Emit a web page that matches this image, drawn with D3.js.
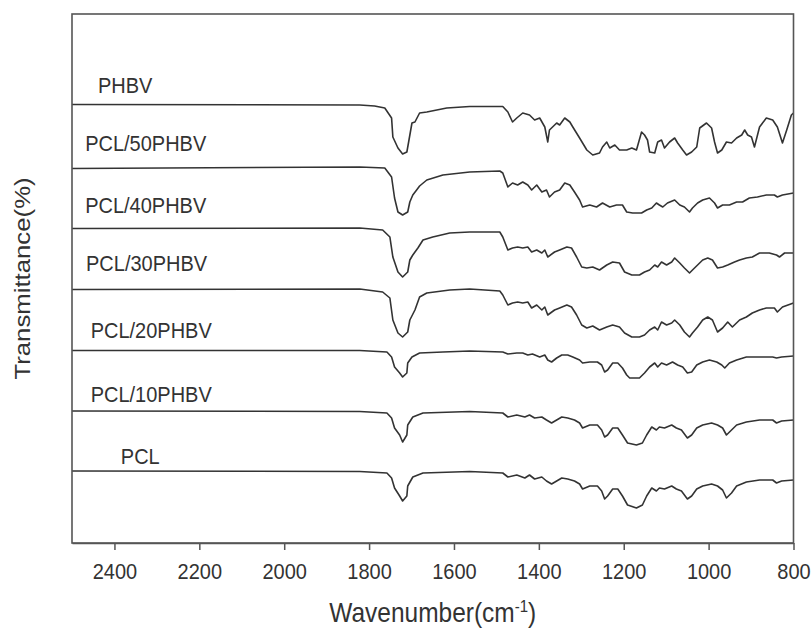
<!DOCTYPE html>
<html>
<head>
<meta charset="utf-8">
<script src="https://cdn.jsdelivr.net/npm/d3@7"></script>
<style>
  body { margin: 0; background: #fff; }
  text { font-family: Arial, "Liberation Sans", sans-serif; fill: #333; }
</style>
</head>
<body>
<div id="chart"></div>
<script>
// FTIR spectra, stacked traces. values are [wavenumber, transmittance (offset units)]
const WIDTH = 812, HEIGHT = 633;
const STRETCH = 1.12; // the source picture's text is a bit taller than wide

const xTicks = [2400, 2200, 2000, 1800, 1600, 1400, 1200, 1000, 800];
const seriesNames = ["PHBV", "PCL/50PHBV", "PCL/40PHBV", "PCL/30PHBV", "PCL/20PHBV", "PCL/10PHBV", "PCL"];
// where the name sits (wavenumber, transmittance)
const labelWn = [2439, 2469, 2469, 2467, 2456, 2456, 2385];
const labelT = [90, 78.5, 66.1, 54.5, 41, 28.3, 15.8];

const phbv = [
  [2500, 87.7], [1822, 87.6], [1787, 87.4], [1763, 87.0], [1747, 85.0], [1744, 81.2], [1732, 79.0],
  [1721, 77.8], [1711, 78.2], [1706, 80.6], [1699, 84.0], [1692, 84.2], [1681, 86.0], [1664, 86.2],
  [1617, 87.0], [1563, 87.3], [1485, 87.3], [1473, 86.2], [1462, 84.2], [1452, 85.0], [1438, 86.0],
  [1422, 85.6], [1410, 84.6], [1398, 85.0], [1386, 83.2], [1379, 80.2], [1375, 82.6], [1358, 84.0],
  [1351, 83.6], [1339, 85.0], [1327, 84.2], [1320, 83.2], [1304, 81.0], [1287, 78.6], [1273, 77.6],
  [1257, 78.0], [1250, 79.2], [1240, 80.2], [1233, 79.0], [1221, 79.6], [1210, 78.6], [1193, 78.6],
  [1181, 79.0], [1170, 78.6], [1158, 82.2], [1151, 81.6], [1144, 80.6], [1139, 78.2], [1127, 78.0],
  [1120, 80.2], [1111, 80.6], [1104, 79.0], [1092, 80.2], [1080, 81.0], [1073, 80.0], [1061, 78.6],
  [1052, 77.6], [1040, 78.2], [1028, 79.2], [1021, 83.0], [1005, 84.0], [993, 83.0], [986, 80.2],
  [979, 78.0], [969, 78.6], [958, 80.2], [946, 80.0], [934, 81.0], [922, 81.6], [915, 82.6],
  [908, 81.6], [899, 81.2], [892, 79.2], [880, 83.2], [864, 85.0], [849, 84.6], [838, 83.2],
  [826, 80.0], [816, 82.6], [805, 85.6], [800, 86.0]
];

const pcl50 = [
  [2500, 74.9], [1822, 75.2], [1763, 75.0], [1747, 73.2], [1740, 69.0], [1732, 66.2], [1721, 65.6],
  [1709, 66.2], [1704, 68.2], [1697, 69.6], [1688, 70.6], [1681, 71.4], [1664, 72.6], [1626, 73.6],
  [1563, 74.2], [1492, 74.4], [1485, 74.0], [1473, 71.2], [1462, 72.0], [1450, 71.6], [1438, 72.2],
  [1426, 71.6], [1417, 70.6], [1405, 71.6], [1393, 70.2], [1382, 70.6], [1375, 69.2], [1363, 70.2],
  [1351, 70.6], [1339, 72.0], [1327, 71.6], [1316, 70.2], [1304, 68.6], [1297, 67.2], [1280, 67.6],
  [1264, 67.2], [1250, 68.0], [1233, 67.2], [1217, 67.6], [1203, 67.6], [1193, 66.2], [1179, 66.0],
  [1158, 66.0], [1146, 66.6], [1134, 67.0], [1123, 68.0], [1116, 67.6], [1108, 67.2], [1097, 68.0],
  [1080, 68.6], [1068, 67.6], [1057, 67.2], [1045, 66.2], [1038, 67.0], [1026, 68.0], [1014, 68.6],
  [998, 69.0], [986, 68.0], [979, 67.0], [967, 67.6], [951, 67.6], [934, 68.2], [920, 68.2],
  [904, 69.0], [885, 69.2], [864, 69.6], [845, 69.6], [838, 69.2], [826, 69.6], [800, 70.0]
];

const pcl40 = [
  [2500, 62.9], [1822, 63.0], [1768, 62.6], [1751, 61.2], [1744, 57.2], [1732, 54.2], [1721, 53.2],
  [1709, 54.2], [1704, 56.6], [1697, 57.6], [1685, 59.0], [1673, 60.6], [1650, 61.2], [1610, 62.0],
  [1563, 62.2], [1492, 62.2], [1485, 61.2], [1473, 58.6], [1462, 59.0], [1450, 59.2], [1438, 59.0],
  [1426, 59.2], [1417, 58.2], [1405, 58.6], [1393, 58.0], [1386, 58.6], [1379, 57.2], [1363, 58.2],
  [1351, 58.6], [1334, 59.2], [1323, 59.0], [1311, 57.2], [1299, 55.2], [1287, 55.0], [1273, 55.2],
  [1257, 54.6], [1240, 55.6], [1226, 56.2], [1210, 56.0], [1198, 54.2], [1181, 53.6], [1163, 53.6],
  [1151, 54.2], [1139, 54.6], [1127, 55.6], [1120, 55.2], [1111, 56.2], [1099, 55.6], [1087, 56.2],
  [1080, 57.0], [1068, 56.0], [1057, 55.0], [1045, 54.0], [1038, 54.6], [1026, 55.6], [1014, 56.6],
  [1002, 57.0], [991, 56.6], [979, 55.0], [967, 55.2], [955, 55.6], [939, 56.2], [927, 56.6],
  [911, 57.0], [897, 57.2], [880, 58.0], [857, 58.0], [840, 57.6], [833, 57.2], [821, 58.0], [800, 58.0]
];

const pcl30 = [
  [2500, 50.7], [1822, 50.8], [1768, 50.2], [1751, 49.0], [1744, 44.6], [1732, 42.0], [1721, 41.2],
  [1709, 42.2], [1704, 44.6], [1692, 46.6], [1681, 49.2], [1664, 50.0], [1610, 50.6], [1563, 50.8],
  [1492, 50.4], [1485, 49.6], [1473, 47.6], [1462, 48.0], [1450, 48.2], [1438, 48.0], [1426, 48.2],
  [1417, 47.0], [1405, 47.6], [1393, 46.6], [1386, 47.2], [1379, 45.6], [1363, 46.6], [1351, 47.0],
  [1334, 47.6], [1323, 47.2], [1311, 45.6], [1299, 43.6], [1287, 43.0], [1273, 43.4], [1257, 42.6],
  [1240, 43.2], [1226, 43.6], [1210, 43.2], [1198, 42.0], [1181, 41.2], [1163, 41.2], [1151, 41.6],
  [1139, 42.6], [1127, 43.2], [1120, 42.6], [1111, 44.2], [1099, 43.6], [1087, 44.0], [1080, 44.6],
  [1068, 43.6], [1057, 42.2], [1045, 41.2], [1038, 42.0], [1026, 43.2], [1014, 44.6], [1002, 45.2],
  [991, 44.6], [979, 42.2], [967, 43.0], [955, 44.2], [944, 43.2], [927, 44.6], [911, 45.2],
  [897, 46.0], [880, 46.6], [864, 47.0], [845, 47.0], [838, 46.2], [826, 47.2], [800, 48.0]
];

const pcl20 = [
  [2500, 38.5], [1822, 38.5], [1758, 38.2], [1747, 37.2], [1740, 35.2], [1728, 34.0], [1721, 33.2],
  [1711, 34.0], [1709, 36.0], [1699, 37.2], [1681, 38.0], [1626, 38.2], [1563, 38.4], [1485, 38.2],
  [1473, 37.8], [1452, 38.0], [1438, 38.0], [1426, 37.6], [1415, 37.8], [1398, 37.2], [1386, 37.6],
  [1379, 36.6], [1370, 36.2], [1358, 37.0], [1346, 37.6], [1332, 37.6], [1320, 37.2], [1304, 36.6],
  [1297, 36.0], [1280, 36.2], [1262, 36.2], [1252, 35.6], [1245, 34.2], [1238, 34.6], [1226, 36.0],
  [1214, 36.0], [1203, 35.0], [1193, 33.6], [1186, 33.0], [1163, 33.0], [1151, 34.0], [1139, 35.2],
  [1127, 36.0], [1120, 35.2], [1111, 36.0], [1099, 35.6], [1085, 36.2], [1073, 35.6], [1061, 35.2],
  [1050, 34.0], [1040, 34.2], [1028, 35.6], [1014, 36.2], [998, 36.6], [981, 36.2], [969, 35.6],
  [962, 35.0], [951, 36.0], [934, 36.6], [911, 37.2], [880, 37.2], [849, 37.2], [840, 37.0],
  [828, 37.2], [800, 37.4]
];

const pcl10 = [
  [2500, 26.4], [1822, 26.3], [1758, 26.0], [1747, 25.0], [1740, 23.0], [1728, 21.6], [1721, 20.2],
  [1711, 21.6], [1709, 23.6], [1697, 25.2], [1673, 26.0], [1563, 26.3], [1485, 26.0], [1473, 25.2],
  [1452, 25.6], [1433, 25.2], [1422, 25.6], [1410, 25.0], [1393, 25.2], [1382, 24.6], [1370, 24.0],
  [1358, 24.6], [1346, 25.2], [1332, 25.0], [1316, 24.6], [1304, 24.0], [1297, 23.0], [1280, 23.6],
  [1262, 23.6], [1252, 22.6], [1245, 21.2], [1238, 21.6], [1226, 23.0], [1214, 23.0], [1203, 21.6],
  [1191, 20.0], [1170, 19.6], [1156, 20.0], [1146, 21.6], [1134, 23.2], [1123, 22.6], [1116, 23.2],
  [1104, 23.0], [1087, 23.6], [1076, 23.0], [1064, 22.6], [1050, 21.0], [1040, 21.6], [1028, 23.0],
  [1014, 23.6], [993, 24.0], [979, 23.6], [967, 23.0], [958, 21.6], [946, 22.6], [934, 23.6],
  [911, 24.2], [880, 24.6], [849, 24.6], [840, 24.0], [828, 24.4], [800, 24.6]
];

const pcl = [
  [2500, 14.4], [1822, 14.3], [1758, 14.0], [1747, 13.0], [1740, 11.0], [1728, 9.4], [1721, 8.4],
  [1711, 9.4], [1709, 11.4], [1697, 13.2], [1673, 14.0], [1563, 14.3], [1485, 14.0], [1473, 13.2],
  [1452, 13.6], [1433, 13.0], [1422, 13.6], [1410, 12.8], [1393, 13.2], [1382, 12.4], [1370, 11.8],
  [1358, 12.4], [1346, 13.0], [1332, 12.8], [1316, 12.4], [1304, 11.8], [1297, 10.8], [1280, 11.4],
  [1262, 11.4], [1252, 10.4], [1245, 8.8], [1238, 9.4], [1226, 10.8], [1214, 10.8], [1203, 9.4],
  [1191, 7.6], [1170, 7.0], [1156, 7.6], [1146, 9.4], [1134, 11.0], [1123, 10.4], [1116, 11.0],
  [1104, 10.8], [1087, 11.4], [1076, 10.8], [1064, 10.4], [1050, 8.8], [1040, 9.4], [1028, 10.8],
  [1014, 11.4], [993, 11.8], [979, 11.4], [967, 10.6], [958, 9.0], [946, 10.0], [934, 11.4],
  [911, 12.2], [880, 12.6], [849, 12.6], [840, 12.0], [828, 12.4], [800, 12.6]
];

const spectra = [phbv, pcl50, pcl40, pcl30, pcl20, pcl10, pcl];

let svg = d3.select("#chart")
    .append("svg")
    .attr("width", WIDTH)
    .attr("height", HEIGHT);

// wavenumber axis runs high -> low
let x = d3.scaleLinear()
    .domain([2500, 800])
    .range([72, 793.5]);

let y = d3.scaleLinear()
    .domain([0, 105.8])
    .range([543, 14]);

let line = d3.line()
    .x(d => x(d[0]))
    .y(d => y(d[1]));

svg.append("g")
    .selectAll("path")
    .data(spectra)
    .enter()
    .append("path")
    .attr("d", line)
    .attr("fill", "none")
    .attr("stroke", "#333")
    .attr("stroke-width", 1.6)
    .attr("stroke-linejoin", "round");

svg.append("g")
    .selectAll("text")
    .data(seriesNames)
    .enter()
    .append("text")
    .attr("transform", (d, i) => `translate(${x(labelWn[i])}, ${y(labelT[i])}) scale(1, ${STRETCH})`)
    .style("font-size", "20px")
    .text(d => d);

// frame
svg.append("rect")
    .attr("x", x(2500))
    .attr("y", y(105.8))
    .attr("width", x(800) - x(2500))
    .attr("height", y(0) - y(105.8))
    .attr("fill", "none")
    .attr("stroke", "#555")
    .attr("stroke-width", 1.6);

let xAxis = svg.append("g")
    .attr("transform", `translate(0, ${y(0)})`)
    .call(d3.axisBottom(x).tickValues(xTicks).tickSize(7).tickSizeOuter(0).tickPadding(11).tickFormat(d3.format("d")));

xAxis.select(".domain").attr("stroke", "#555").attr("stroke-width", 1.6);
xAxis.selectAll(".tick line").attr("stroke", "#555").attr("stroke-width", 1.5);
xAxis.selectAll(".tick text")
    .attr("transform", `scale(1, ${STRETCH})`)
    .style("font-size", "20px")
    .style("font-family", "Arial, 'Liberation Sans', sans-serif")
    .attr("fill", "#333");

// axis titles
let xTitle = svg.append("text")
    .attr("transform", `translate(${(x(2500) + x(800)) / 2}, 622) scale(1, ${STRETCH})`)
    .style("text-anchor", "middle")
    .style("font-size", "24.5px");
xTitle.append("tspan").text("Wavenumber(cm");
xTitle.append("tspan").attr("dy", -9).style("font-size", "15px").text("-1");
xTitle.append("tspan").attr("dy", 9).text(")");

svg.append("text")
    .attr("transform", `translate(30, ${(y(0) + y(105.8)) / 2}) scale(1, ${STRETCH}) rotate(-90)`)
    .style("text-anchor", "middle")
    .style("font-size", "23px")
    .text("Transmittance(%)");
</script>
</body>
</html>
